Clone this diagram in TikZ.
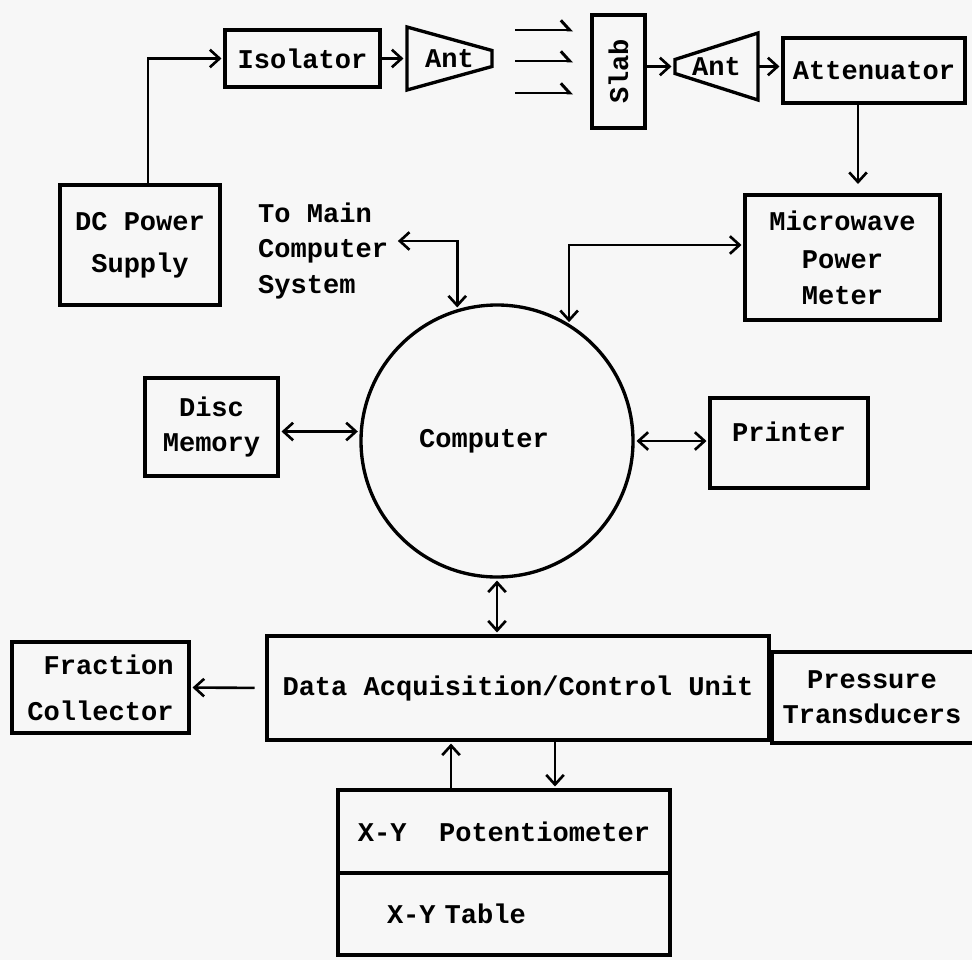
\documentclass[tikz,border=0pt]{standalone}
\usepackage{fontspec}
\setmainfont{Liberation Mono}
\usepackage{graphicx}
\usetikzlibrary{arrows.meta, positioning, calc}

\definecolor{papel}{RGB}{247,247,247}

\begin{document}
\begin{tikzpicture}[
    font=\fontsize{15.4pt}{20pt}\selectfont\bfseries,
    bloque/.style={
        rectangle,
        draw=black,
        line width=1.9pt,
        outer sep=0pt,
        align=center
    },
    antena/.style={
        rectangle,
        outer sep=0pt,
        inner sep=0pt
    },
    flecha/.style={
        -{Straight Barb[length=5.5pt,width=10pt]},
        line width=1.5pt,
        shorten >=2pt
    },
    dflecha/.style={
        {Straight Barb[length=5.5pt,width=10pt]}-{Straight Barb[length=5.5pt,width=10pt]},
        line width=1.5pt,
        shorten >=2pt,
        shorten <=2pt
    },
    onda/.style={
        -{Straight Barb[left,length=5pt,width=11pt]},
        line width=1.7pt
    }
]

% Fondo
\fill[papel] (0,0) rectangle (19.44,-19.2);
\useasboundingbox (0,0) rectangle (19.44,-19.2);

% Cadena de microondas
\node (isolator) [bloque, minimum width=3.1cm, minimum height=1.14cm] at (6.05,-1.17) {Isolator};
\node (ant1) [antena, minimum width=1.7cm, minimum height=1.26cm] at (8.99,-1.17) {Ant};
\draw[line width=1.9pt] (ant1.north west) -- ([yshift=0.16cm]ant1.east)
    -- ([yshift=-0.16cm]ant1.east) -- (ant1.south west) -- cycle;

\node (slab) [bloque, minimum width=1.06cm, minimum height=2.26cm] at (12.37,-1.43) {\rotatebox{90}{Slab}};

\node (ant2) [antena, minimum width=1.66cm, minimum height=1.34cm] at (14.33,-1.33) {Ant};
\draw[line width=1.9pt] ([yshift=0.14cm]ant2.west) -- (ant2.north east)
    -- (ant2.south east) -- ([yshift=-0.14cm]ant2.west) -- cycle;

\node (attenuator) [bloque, minimum width=3.64cm, minimum height=1.3cm] at (17.48,-1.41) {Attenuator};

% Ondas hacia la muestra
\foreach \i/\y in {1/-0.6, 2/-1.22, 3/-1.86} {
    \coordinate (onda\i) at (10.3,\y);
    \coordinate (onda\i-fin) at (11.46,\y);
    \draw[onda] (onda\i) -- (onda\i-fin);
}

% Bloques alrededor del ordenador
\node (meter) [bloque, minimum width=3.9cm, minimum height=2.5cm] at (16.85,-5.15)
    {Microwave\\[2pt]Power\\Meter};
\node (dcsupply) [bloque, minimum width=3.2cm, minimum height=2.4cm] at (2.8,-4.9)
    {DC Power\\[4pt]Supply};
\node (tomain) [anchor=west, align=left] at (5.04,-5.02)
    {To Main\\Computer\\System};

\node (computer) [circle, draw=black, line width=1.9pt, outer sep=0pt, minimum size=5.44cm] at (9.94,-8.82)
    {Computer\hspace*{0.52cm}};

\node (disc) [bloque, minimum width=2.66cm, minimum height=1.96cm] at (4.23,-8.54)
    {Disc\\Memory};
\node (printer) [bloque, minimum width=3.16cm, minimum height=1.8cm] at (15.78,-8.86)
    {\raisebox{0.44cm}{Printer}};

% Adquisicion de datos
\node (daq) [bloque, minimum width=10.04cm, minimum height=2.08cm] at (10.36,-13.76)
    {Data Acquisition/Control Unit};
\node (fraction) [bloque, align=right, minimum width=3.54cm, minimum height=1.82cm] at (2.01,-13.75)
    {Fraction\\[6pt]Collector};
\node (pressure) [antena, align=center, minimum width=4cm, minimum height=1.82cm] at (17.44,-13.95)
    {Pressure\\Transducers};
\draw[line width=1.9pt] ([xshift=0.4cm]pressure.north east) -- (pressure.north west)
    -- (pressure.south west) -- ([xshift=0.4cm]pressure.south east);

\node (xypot) [bloque, minimum width=6.64cm, minimum height=1.66cm] at (10.08,-16.63)
    {X-Y~~Potentiometer};
\node (xytable) [bloque, below=0pt of xypot, minimum width=6.64cm, minimum height=1.64cm,
                 inner xsep=0.98cm, text width=4.68cm, align=left]
    {X-Y Table};

% Conexiones
\draw[flecha] ([xshift=0.16cm]dcsupply.north) |- (isolator.west);
\draw[flecha] (isolator.east) -- (ant1.west);
\draw[flecha] (slab.east |- ant2.west) -- (ant2.west);
\draw[flecha] (ant2.east) -- (attenuator.west |- ant2.east);
\draw[flecha, shorten >=0.22cm] ([xshift=-0.32cm]attenuator.south) -- ([xshift=-0.32cm]attenuator.south |- meter.north);

\draw[dflecha] ([yshift=0.2cm]tomain.east) -| (computer.107);
\draw[dflecha] (computer.58) |- ([yshift=0.25cm]meter.west);
\draw[dflecha] (disc.east |- computer.176) -- (computer.176);
\draw[dflecha] (computer.east) -- (printer.west |- computer.east);
\draw[dflecha] (computer.south) -- (computer.south |- daq.north);

\draw[flecha, shorten <=0.25cm] (daq.west) -- (fraction.east);
\draw[flecha] ([xshift=-1.06cm]xypot.north) -- ([xshift=-1.06cm]xypot.north |- daq.south);
\draw[flecha] ([xshift=1.02cm]xypot.north |- daq.south) -- ([xshift=1.02cm]xypot.north);

\end{tikzpicture}
\end{document}
